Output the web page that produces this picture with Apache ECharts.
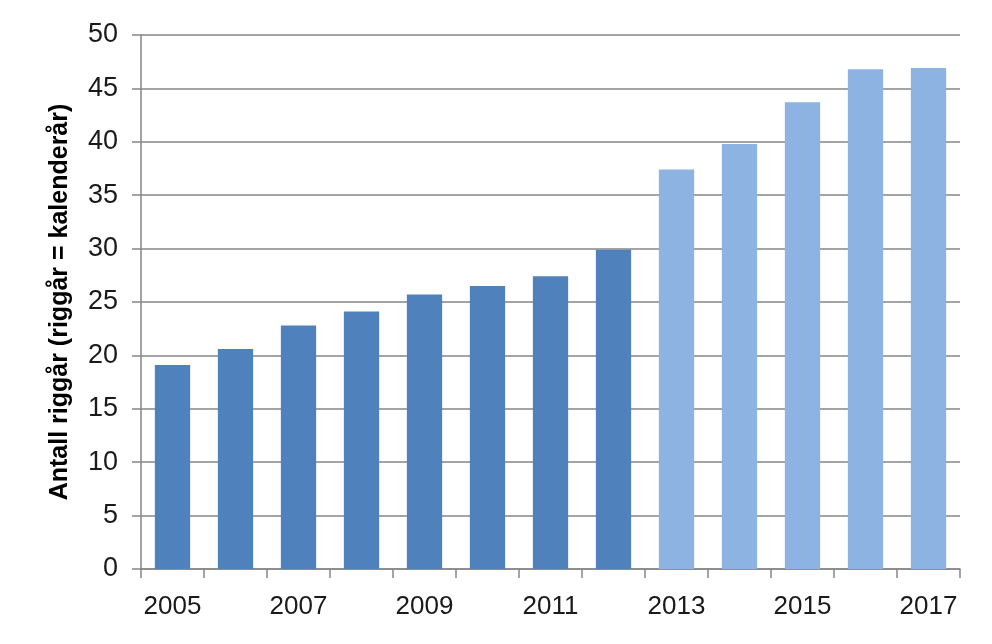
<!DOCTYPE html>
<html>
<head>
<meta charset="utf-8">
<script src="https://cdn.jsdelivr.net/npm/echarts@6/dist/echarts.min.js"></script>
<style>
html,body{margin:0;padding:0;background:#fff;}
#chart{width:992px;height:644px;}
</style>
</head>
<body>
<div id="chart"></div>
<script>
const years = ['2005','2006','2007','2008','2009','2010','2011','2012','2013','2014','2015','2016','2017'];
const rigYears = [19.1, 20.6, 22.8, 24.1, 25.7, 26.5, 27.4, 29.9, 37.4, 39.8, 43.7, 46.8, 46.9];
const firstForecastYear = '2013';
const yTicks = [0, 5, 10, 15, 20, 25, 30, 35, 40, 45, 50];
const axisTitle = 'Antall riggår (riggår = kalenderår)';

const darkBlue = '#4F81BD';
const lightBlue = '#8DB3E2';
const forecastIdx = years.indexOf(firstForecastYear);

const chart = echarts.init(document.getElementById('chart'), null, {renderer: 'canvas'});
chart.setOption({
  animation: false,
  backgroundColor: '#ffffff',
  grid: {left: 141, right: 32, top: 35, bottom: 75, containLabel: false},
  xAxis: {
    type: 'category',
    data: years,
    axisLine: {lineStyle: {color: '#868686', width: 1.5}},
    axisTick: {show: true, interval: 0, alignWithLabel: false, length: 9, lineStyle: {color: '#868686', width: 1.5}},
    axisLabel: {interval: 1, margin: 25, fontFamily: 'Liberation Sans', fontSize: 26, color: '#1a1a1a'},
    splitLine: {show: false}
  },
  yAxis: {
    type: 'value',
    min: yTicks[0],
    max: yTicks[yTicks.length - 1],
    interval: yTicks[1] - yTicks[0],
    name: axisTitle,
    nameLocation: 'middle',
    nameGap: 68,
    nameRotate: 90,
    nameTextStyle: {fontFamily: 'Liberation Sans', fontWeight: 'bold', fontSize: 25, color: '#000'},
    axisLine: {show: true, lineStyle: {color: '#868686', width: 1.5}},
    axisTick: {show: true, length: 9, lineStyle: {color: '#868686', width: 1.5}},
    axisLabel: {margin: 23, fontFamily: 'Liberation Sans', fontSize: 27, color: '#1a1a1a'},
    splitLine: {show: true, lineStyle: {color: '#868686', width: 1.5}}
  },
  series: [{
    type: 'bar',
    data: rigYears,
    barCategoryGap: '44%',
    itemStyle: {
      color: function (p) { return p.dataIndex >= forecastIdx ? lightBlue : darkBlue; }
    }
  }]
});
</script>
</body>
</html>
